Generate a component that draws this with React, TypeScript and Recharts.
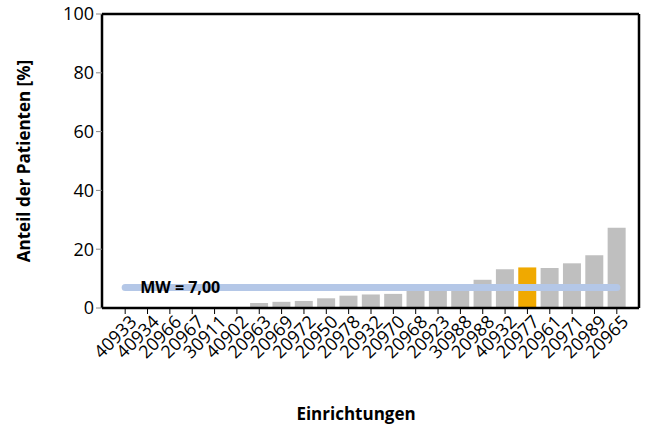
import { ComposedChart, Bar, Line, XAxis, YAxis, Cell, LabelList, Label, CartesianGrid } from "recharts";

const categories = [
  "40933", "40934", "20966", "20967", "30911", "40902", "20963", "20969", "20972", "20950",
  "20978", "20932", "20970", "20968", "20923", "30988", "20988", "40932", "20977", "20961",
  "20971", "20989", "20965",
];
const shares = [
  0, 0, 0, 0, 0, 0, 1.7, 2.1, 2.4, 3.3,
  4.2, 4.6, 4.8, 5.8, 6.3, 7.2, 9.6, 13.2, 13.8, 13.6,
  15.2, 17.9, 27.3,
];
const highlighted = "20977";
const meanValue = 7.0;
const meanLabel = "MW = 7,00";
const yTicks = [0, 20, 40, 60, 80, 100];

const FONT = "'Open Sans', sans-serif";
const GREY = "#bfbfbf";
const ORANGE = "#f0a900";
const LINE = "#b4c7e7";

const data = categories.map((c, i) => ({ name: c, value: shares[i], mean: meanValue }));

function RotatedTick({ x, y, payload }: { x?: number; y?: number; payload?: { value: string } }) {
  return (
    <g transform={`translate(${x},${y})`}>
      <text
        x={0}
        y={0}
        dx={4}
        dy={14}
        textAnchor="end"
        transform="rotate(-45)"
        fontSize={18}
        fontFamily={FONT}
        fill="#000"
      >
        {payload?.value}
      </text>
    </g>
  );
}

function MeanLabel(props: { x?: number; y?: number; index?: number }) {
  if (props.index !== 0) return null;
  return (
    <text x={(props.x ?? 0) + 15} y={(props.y ?? 0) + 6} fontSize={16} fontWeight="bold" fontFamily={FONT} fill="#000">
      {meanLabel}
    </text>
  );
}

// frame lines on top and right of the plot area
type Offset = { left: number; top: number; width: number; height: number };

export default function App() {
  return (
    <div style={{ position: "absolute", left: 0, top: 0, width: 645, height: 430, background: "#fff" }}>
      <ComposedChart width={645} height={430} data={data} margin={{ top: 14, right: 6, left: 0, bottom: 0 }} barCategoryGap={4}>
        <CartesianGrid
          stroke="#000"
          strokeWidth={2.5}
          horizontalCoordinatesGenerator={({ offset }: { offset: Offset }) => [offset.top]}
          verticalCoordinatesGenerator={({ offset }: { offset: Offset }) => [offset.left + offset.width]}
        />
        <XAxis
          dataKey="name"
          interval={0}
          height={122}
          padding={{ left: 12, right: 11 }}
          tick={<RotatedTick />}
          tickLine={{ stroke: "#000" }}
          tickSize={6}
          axisLine={{ stroke: "#000", strokeWidth: 2.5 }}
        >
          <Label
            content={() => (
              <text x={356} y={420} textAnchor="middle" fontSize={17} fontWeight="bold" fontFamily={FONT} fill="#000">
                Einrichtungen
              </text>
            )}
          />
        </XAxis>
        <YAxis
          domain={[0, 100]}
          ticks={yTicks}
          width={102}
          tick={{ fontSize: 18, fontFamily: FONT, fill: "#000" }}
          tickLine={{ stroke: "#888" }}
          tickSize={6}
          axisLine={{ stroke: "#000", strokeWidth: 2.5 }}
        >
          <Label
            content={() => (
              <text
                x={30}
                y={161}
                textAnchor="middle"
                transform="rotate(-90, 30, 161)"
                fontSize={17}
                fontWeight="bold"
                fontFamily={FONT}
                fill="#000"
              >
                Anteil der Patienten [%]
              </text>
            )}
          />
        </YAxis>
        <Bar dataKey="value" barSize={18} isAnimationActive={false}>
          {data.map((d) => (
            <Cell key={d.name} fill={d.name === highlighted ? ORANGE : GREY} />
          ))}
        </Bar>
        <Line
          dataKey="mean"
          stroke={LINE}
          strokeWidth={7}
          strokeLinecap="round"
          dot={false}
          activeDot={false}
          isAnimationActive={false}
        >
          <LabelList dataKey="mean" content={<MeanLabel />} />
        </Line>
      </ComposedChart>
    </div>
  );
}
